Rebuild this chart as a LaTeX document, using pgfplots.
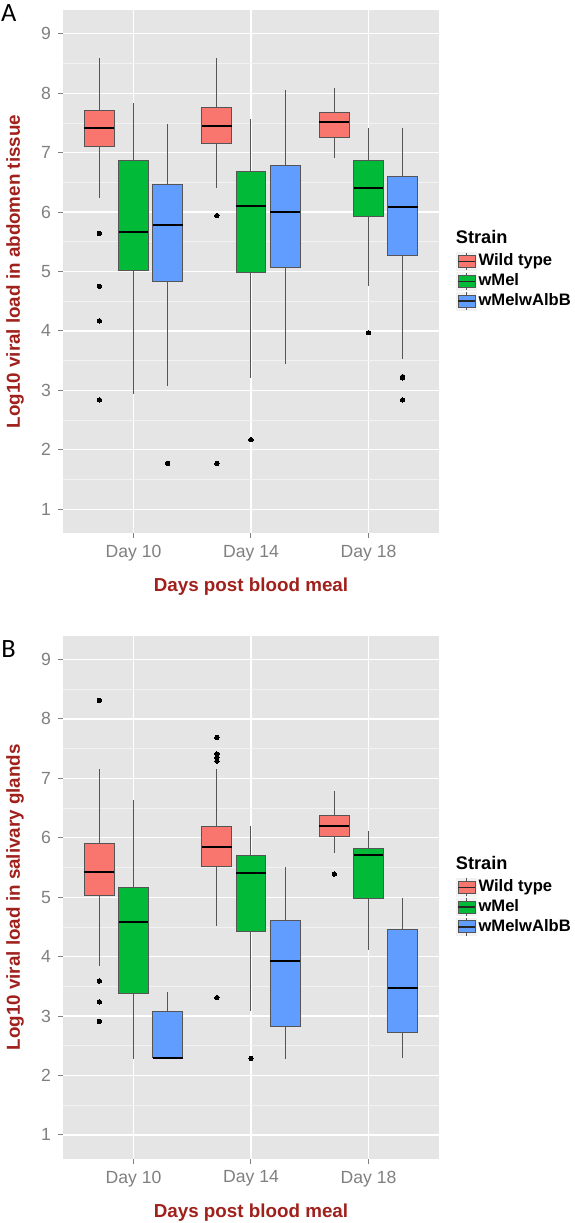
\documentclass[border=0pt]{standalone}
\usepackage{pgfplots}
\pgfplotsset{compat=1.18}
\usepgfplotslibrary{statistics}
\usepackage{fontspec}
\setmainfont{Liberation Sans}
\newfontfamily\carlito{Carlito}
\definecolor{wt}{HTML}{F8766D}
\definecolor{wmel}{HTML}{00BA38}
\definecolor{wab}{HTML}{619CFF}
\definecolor{panelbg}{HTML}{E5E5E5}
\definecolor{minorgrid}{HTML}{F2F2F2}
\definecolor{tickgray}{HTML}{7F7F7F}
\definecolor{titlered}{RGB}{160,32,28}
\definecolor{boxline}{HTML}{555555}

\newcommand\keyimg[1]{%
  \addlegendimage{legend image code/.code={
    \fill[minorgrid] (0pt,-4.4pt) rectangle (10pt,4.4pt);
    \draw[boxline, line width=0.45pt] (5pt,-4.4pt) -- (5pt,4.4pt);
    \draw[boxline, fill=#1, line width=0.45pt] (0.8pt,-3pt) rectangle (9.2pt,3pt);
    \draw[black!85, line width=0.7pt] (0.8pt,0pt) -- (9.2pt,0pt);
  }}}

\pgfplotsset{
  gg/.style={
    width=188pt, height=261.5pt, scale only axis,
    xmin=0.4, xmax=3.6, ymin=0.6, ymax=9.4,
    clip=false,
    axis background/.style={fill=panelbg},
    axis line style={draw=none},
    xtick={1,2,3}, xticklabels={Day 10,Day 14,Day 18},
    ytick={1,2,3,4,5,6,7,8,9},
    minor ytick={1.5,2.5,3.5,4.5,5.5,6.5,7.5,8.5},
    xmajorgrids=true, ymajorgrids=true, yminorgrids=true,
    major grid style={white, line width=0.6pt},
    minor grid style={minorgrid, line width=0.3pt},
    tick align=outside, xtick pos=bottom, ytick pos=left,
    major tick length=2.5pt, minor tick length=0pt,
    tick style={tickgray, line width=0.5pt},
    /pgf/number format/assume math mode=true,
    tick label style={font=\fontsize{8.8}{10}\selectfont, text=tickgray},
    every axis x label/.style={at={(rel axis cs:0.5,0)}, anchor=center, yshift=-27pt,
      font=\bfseries\fontsize{9.4}{11}\selectfont, text=titlered},
    every axis y label/.style={at={(rel axis cs:0,0.5)}, anchor=center, xshift=-24pt, rotate=90,
      font=\bfseries\fontsize{9.4}{11}\selectfont, text=titlered},
    xlabel={Days post blood meal},
    legend style={at={(1.045,0.538)}, anchor=north west, draw=none, fill=none,
      inner sep=0pt, row sep=0.4pt, font=\bfseries\fontsize{8.3}{9}\selectfont,
      nodes={inner sep=0.7pt, text height=6.2pt, text depth=1.9pt}},
    legend cell align=left,
  },
  bp/.style={boxplot/draw direction=y, boxplot/box extend=0.255, boxplot/whisker extend=0,
    draw=boxline, line width=0.5pt,
    mark=*, mark size=1.1pt, mark options={draw=black, fill=black, line width=0pt},
    boxplot/every median/.style={black, line width=1pt}},
}

\begin{document}
\begin{tikzpicture}
\begin{axis}[gg, name=A, anchor=north west, at={(0,0)},
  ylabel={Log10 viral load in abdomen tissue}]
\keyimg{wt}\addlegendentry{Wild type}
\keyimg{wmel}\addlegendentry{wMel}
\keyimg{wab}\addlegendentry{wMelwAlbB}
% Day 10
\addplot[bp, fill=wt, boxplot prepared={draw position=0.71, lower whisker=6.24, lower quartile=7.11, median=7.41, upper quartile=7.71, upper whisker=8.59}]
  coordinates {(0.71,5.64) (0.71,4.75) (0.71,4.17) (0.71,2.84)};
\addplot[bp, fill=wmel, boxplot prepared={draw position=1.00, lower whisker=2.94, lower quartile=5.01, median=5.66, upper quartile=6.86, upper whisker=7.83}]
  coordinates {};
\addplot[bp, fill=wab, boxplot prepared={draw position=1.29, lower whisker=3.08, lower quartile=4.83, median=5.79, upper quartile=6.47, upper whisker=7.49}]
  coordinates {(1.29,1.77)};
% Day 14
\addplot[bp, fill=wt, boxplot prepared={draw position=1.71, lower whisker=6.41, lower quartile=7.16, median=7.44, upper quartile=7.76, upper whisker=8.59}]
  coordinates {(1.71,5.94) (1.71,1.77)};
\addplot[bp, fill=wmel, boxplot prepared={draw position=2.00, lower whisker=3.21, lower quartile=4.98, median=6.10, upper quartile=6.69, upper whisker=7.57}]
  coordinates {(2.00,2.17)};
\addplot[bp, fill=wab, boxplot prepared={draw position=2.29, lower whisker=3.45, lower quartile=5.07, median=6.00, upper quartile=6.79, upper whisker=8.06}]
  coordinates {};
% Day 18
\addplot[bp, fill=wt, boxplot prepared={draw position=2.71, lower whisker=6.91, lower quartile=7.26, median=7.52, upper quartile=7.68, upper whisker=8.08}]
  coordinates {};
\addplot[bp, fill=wmel, boxplot prepared={draw position=3.00, lower whisker=4.75, lower quartile=5.93, median=6.41, upper quartile=6.86, upper whisker=7.41}]
  coordinates {(3.00,3.97)};
\addplot[bp, fill=wab, boxplot prepared={draw position=3.29, lower whisker=3.53, lower quartile=5.27, median=6.09, upper quartile=6.60, upper whisker=7.42}]
  coordinates {(3.29,3.23) (3.29,3.21) (3.29,2.84)};
\node[anchor=west, inner sep=0pt, font=\bfseries\fontsize{9.1}{10}\selectfont] at (rel axis cs:1.044,0.566) {Strain};
\node[inner sep=0pt, font=\carlito\fontsize{13.2}{14}\selectfont] at (rel axis cs:-0.1444,0.9937) {A};
\coordinate (TL) at (rel axis cs:0,1);
\end{axis}

\begin{axis}[gg, name=B, anchor=north west, at={(0,-312.85pt)},
  ylabel={Log10 viral load in salivary glands}]
\keyimg{wt}\addlegendentry{Wild type}
\keyimg{wmel}\addlegendentry{wMel}
\keyimg{wab}\addlegendentry{wMelwAlbB}
% Day 10
\addplot[bp, fill=wt, boxplot prepared={draw position=0.71, lower whisker=3.85, lower quartile=5.03, median=5.42, upper quartile=5.91, upper whisker=7.16}]
  coordinates {(0.71,8.31) (0.71,3.59) (0.71,3.24) (0.71,2.91)};
\addplot[bp, fill=wmel, boxplot prepared={draw position=1.00, lower whisker=2.28, lower quartile=3.38, median=4.58, upper quartile=5.16, upper whisker=6.63}]
  coordinates {};
\addplot[bp, fill=wab, boxplot prepared={draw position=1.29, lower whisker=2.30, lower quartile=2.30, median=2.30, upper quartile=3.08, upper whisker=3.40}]
  coordinates {};
% Day 14
\addplot[bp, fill=wt, boxplot prepared={draw position=1.71, lower whisker=4.52, lower quartile=5.52, median=5.85, upper quartile=6.19, upper whisker=7.16}]
  coordinates {(1.71,7.69) (1.71,7.41) (1.71,7.35) (1.71,7.29) (1.71,3.31)};
\addplot[bp, fill=wmel, boxplot prepared={draw position=2.00, lower whisker=3.09, lower quartile=4.42, median=5.40, upper quartile=5.71, upper whisker=6.19}]
  coordinates {(2.00,2.29)};
\addplot[bp, fill=wab, boxplot prepared={draw position=2.29, lower whisker=2.27, lower quartile=2.83, median=3.93, upper quartile=4.60, upper whisker=5.50}]
  coordinates {};
% Day 18
\addplot[bp, fill=wt, boxplot prepared={draw position=2.71, lower whisker=5.75, lower quartile=6.02, median=6.20, upper quartile=6.38, upper whisker=6.78}]
  coordinates {(2.71,5.39)};
\addplot[bp, fill=wmel, boxplot prepared={draw position=3.00, lower whisker=4.12, lower quartile=4.98, median=5.71, upper quartile=5.82, upper whisker=6.12}]
  coordinates {};
\addplot[bp, fill=wab, boxplot prepared={draw position=3.29, lower whisker=2.29, lower quartile=2.72, median=3.48, upper quartile=4.46, upper whisker=4.98}]
  coordinates {};
\node[anchor=west, inner sep=0pt, font=\bfseries\fontsize{9.1}{10}\selectfont] at (rel axis cs:1.044,0.565) {Strain};
\node[inner sep=0pt, font=\carlito\fontsize{13.2}{14}\selectfont] at (rel axis cs:-0.1449,0.9745) {B};
\end{axis}
\pgfresetboundingbox
\path ([xshift=-31.5pt,yshift=5pt]TL) rectangle ([xshift=255.5pt,yshift=-606.5pt]TL);
\end{tikzpicture}
\end{document}
